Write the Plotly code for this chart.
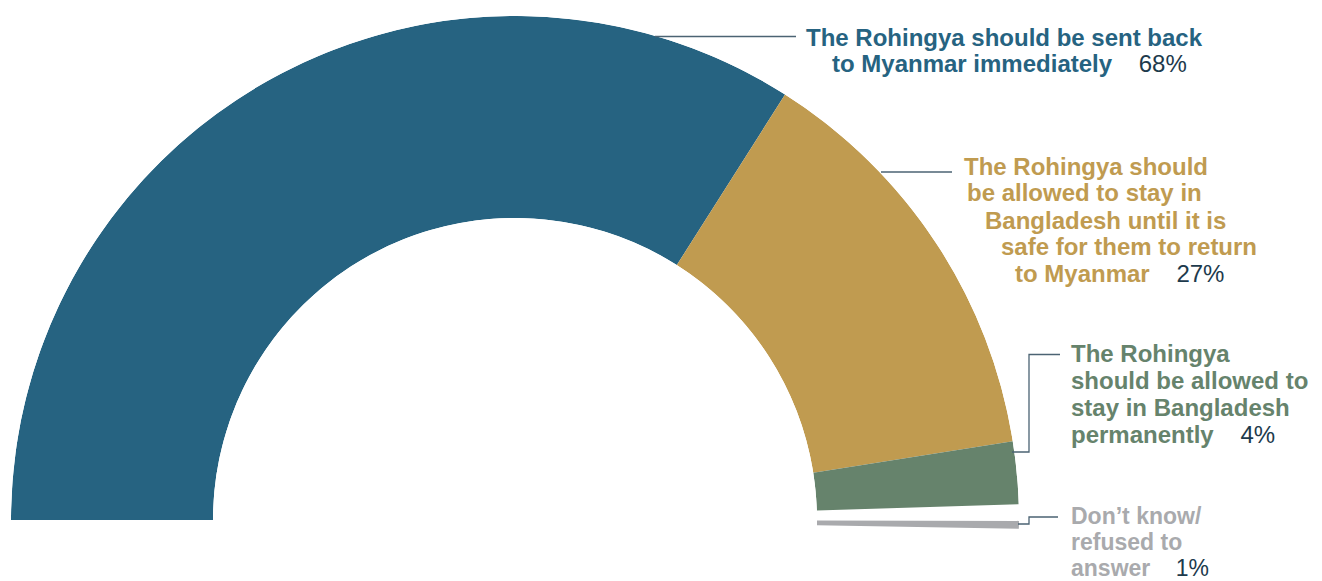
import math
import plotly.graph_objects as go

# ---------------- data ----------------
categories = [
    "The Rohingya should be sent back to Myanmar immediately",
    "The Rohingya should be allowed to stay in Bangladesh until it is safe for them to return to Myanmar",
    "The Rohingya should be allowed to stay in Bangladesh permanently",
    "Don’t know/ refused to answer",
]
values = [68, 27, 4, 1]
pct_labels = ["68%", "27%", "4%", "1%"]

# label text split into lines as in the original graphic
label_lines = [
    ["The Rohingya should be sent back", "to Myanmar immediately"],
    ["The Rohingya should", "be allowed to stay in", "Bangladesh until it is",
     "safe for them to return", "to Myanmar"],
    ["The Rohingya", "should be allowed to", "stay in Bangladesh", "permanently"],
    ["Don’t know/", "refused to", "answer"],
]

# ---------------- styles ----------------
colors = ["#266381", "#c09b50", "#66836c", "#a9aaad"]
pct_color = "#1d3a4c"
leader_color = "#4b6373"
FONT = "Liberation Sans"
label_size = [24, 24, 24, 23]
pct_gap = [4, 4, 4, 4]   # non-breaking spaces before the percentage

# per line: (x_left, y_center) in pixels
line_pos = [
    [(805, 37), (831, 64)],
    [(963, 166), (966, 193), (984, 220), (1000, 247), (1014, 274)],
    [(1070, 353.5), (1070, 380.5), (1070, 407.5), (1070, 434.5)],
    [(1070, 516), (1070, 542), (1070, 568)],
]

# small visual tweaks for the last slice (drawn below the baseline, thinner)
slice_theta_shift = [0, 0, 0, 1.45]
slice_width_scale = [1, 1, 1, 0.5]

W, H = 1322, 581
CX, CY, R = 515, 520, 504
HOLE_R = 302
SECTOR_LOW = -1.5


def px(x):
    return x / W


def py(y):
    return 1 - y / H


# ---------------- slices via barpolar ----------------
total = sum(values)
thetas, widths = [], []
cum = 0
for i, v in enumerate(values):
    start = cum / total * 180
    end = (cum + v) / total * 180
    widths.append((end - start) * slice_width_scale[i])
    thetas.append((start + end) / 2 + slice_theta_shift[i])
    cum += v

fig = go.Figure()
fig.add_trace(go.Barpolar(
    r=[1] * len(values),
    theta=thetas,
    width=widths,
    marker=dict(color=colors, line=dict(width=0)),
    text=categories,
    hoverinfo="text",
    showlegend=False,
))

bottom_px = CY + R * math.sin(math.radians(-SECTOR_LOW))
fig.update_layout(
    width=W, height=H,
    margin=dict(l=0, r=0, t=0, b=0),
    paper_bgcolor="white",
    plot_bgcolor="white",
    polar=dict(
        domain=dict(x=[px(CX - R), px(CX + R)], y=[py(bottom_px), py(CY - R)]),
        sector=[SECTOR_LOW, 180],
        hole=HOLE_R / R,
        bgcolor="white",
        radialaxis=dict(visible=False, range=[0, 1], showgrid=False),
        angularaxis=dict(visible=False, direction="clockwise", rotation=180,
                         showgrid=False, thetaunit="degrees"),
    ),
)

# ---------------- labels ----------------
annotations = []
for i, lines in enumerate(label_lines):
    for j, (txt, (x, y)) in enumerate(zip(lines, line_pos[i])):
        if j == len(lines) - 1:
            txt = (txt + "&nbsp;" * pct_gap[i]
                   + f'<span style="font-weight:normal;color:{pct_color}">'
                   + pct_labels[i] + "</span>")
        annotations.append(dict(
            x=px(x), y=py(y), xref="paper", yref="paper",
            xanchor="left", yanchor="middle", showarrow=False,
            text=txt, borderpad=0,
            font=dict(family=FONT, size=label_size[i], color=colors[i],
                      weight="bold"),
        ))
fig.update_layout(annotations=annotations)

# ---------------- leader lines ----------------
leaders = [
    [(655, 36.5), (796, 36.5)],
    [(881, 172), (952, 172)],
    [(1012, 452), (1029, 452), (1029, 354.5), (1060, 354.5)],
    [(1018, 524), (1029, 524), (1029, 517), (1058, 517)],
]
shapes = []
for pts in leaders:
    path = "M " + " L ".join(f"{px(x)},{py(y)}" for x, y in pts)
    shapes.append(dict(type="path", xref="paper", yref="paper", path=path,
                       line=dict(color=leader_color, width=1.3)))
fig.update_layout(shapes=shapes)

fig.write_html(
    "out.html",
    config={"displayModeBar": False},
    post_script="document.body.style.margin='0';document.body.style.overflow='hidden';",
)
